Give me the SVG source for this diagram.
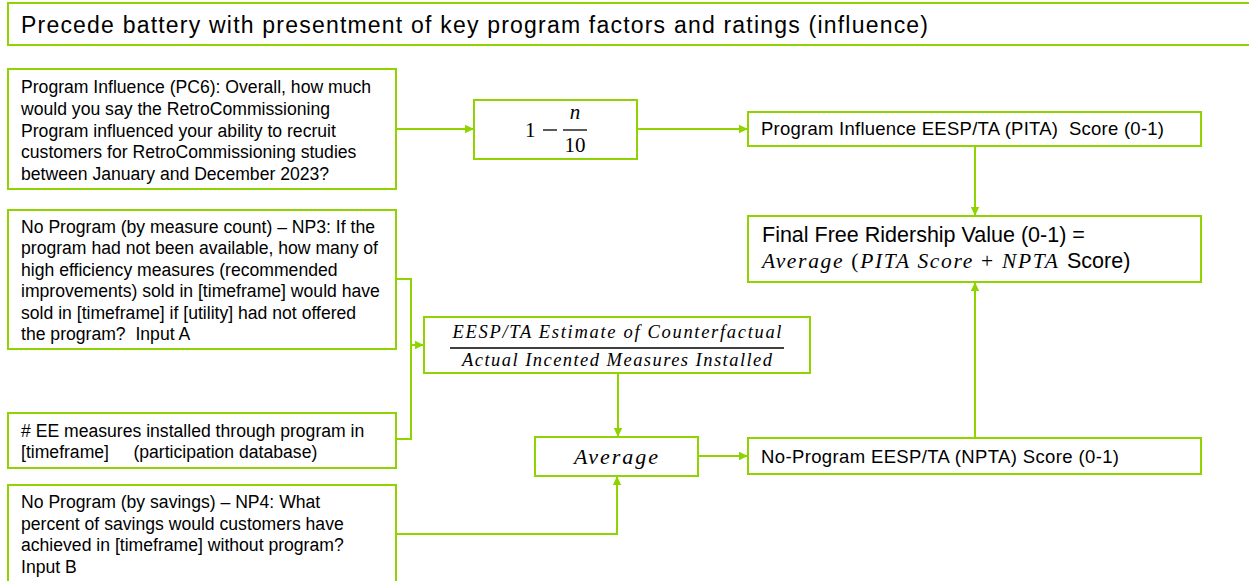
<svg xmlns="http://www.w3.org/2000/svg" width="1249" height="581" viewBox="0 0 1249 581">
<defs>
<marker id="arr" markerUnits="userSpaceOnUse" markerWidth="10" markerHeight="10" refX="9" refY="5" orient="auto">
<path d="M0,0.8 L9,5 L0,9.2 Z" fill="#8FD400"/>
</marker>
<style>
.box{fill:#fff;stroke:#8FD400;stroke-width:2}
.con{fill:none;stroke:#8FD400;stroke-width:2}
.t{font-family:"Liberation Sans",Arial,sans-serif;fill:#000;white-space:pre}
.m{font-family:"Liberation Serif","DejaVu Serif",serif;fill:#000}
.i{font-style:italic}
</style>
</defs>
<rect width="1249" height="581" fill="#fff"/>

<g id="title">
<rect class="box" x="8" y="3" width="1260" height="42"/>
<text class="t" x="21" y="33" font-size="23" textLength="907" lengthAdjust="spacing">Precede battery with presentment of key program factors and ratings (influence)</text>
</g>

<g id="connectors">
<path class="con" d="M396,129 H474" marker-end="url(#arr)"/>
<path class="con" d="M637,129 H748" marker-end="url(#arr)"/>
<path class="con" d="M975,147 V216" marker-end="url(#arr)"/>
<path class="con" d="M975,438 V282" marker-end="url(#arr)"/>
<path class="con" d="M396,279 H411 V439 H396"/>
<path class="con" d="M411,345 H424" marker-end="url(#arr)"/>
<path class="con" d="M618,373 V437" marker-end="url(#arr)"/>
<path class="con" d="M698,456 H748" marker-end="url(#arr)"/>
<path class="con" d="M396,534 H617 V476" marker-end="url(#arr)"/>
</g>

<g id="pc6">
<rect class="box" x="8" y="69" width="388" height="120"/>
<text class="t" font-size="17.6">
<tspan x="21" y="93">Program Influence (PC6): Overall, how much</tspan>
<tspan x="21" y="114.8">would you say the RetroCommissioning</tspan>
<tspan x="21" y="136.5">Program influenced your ability to recruit</tspan>
<tspan x="21" y="158.2">customers for RetroCommissioning studies</tspan>
<tspan x="21" y="180">between January and December 2023?</tspan>
</text>
</g>

<g id="formula">
<rect class="box" x="474" y="100" width="163" height="59"/>
<text class="m" x="525" y="137" font-size="21">1</text>
<line x1="543" y1="130" x2="557" y2="130" stroke="#000" stroke-width="1.3"/>
<text class="m i" x="575" y="119" font-size="21" text-anchor="middle">n</text>
<line x1="563" y1="130" x2="587" y2="130" stroke="#000" stroke-width="1.3"/>
<text class="m" x="575" y="152" font-size="21" text-anchor="middle">10</text>
</g>

<g id="pita">
<rect class="box" x="748" y="112" width="453" height="34"/>
<text class="t" x="761" y="135" font-size="18.5" textLength="403" lengthAdjust="spacing">Program Influence EESP/TA (PITA)  Score (0-1)</text>
</g>

<g id="final">
<rect class="box" x="748" y="216" width="453" height="66"/>
<text class="t" x="762" y="242" font-size="21.5">Final Free Ridership Value (0-1) =</text>
<text class="m" x="762" y="268" font-size="21.5" textLength="296" lengthAdjust="spacing"><tspan class="i">Average</tspan> (<tspan class="i">PITA Score</tspan> + <tspan class="i">NPTA</tspan></text>
<text class="t" x="1067" y="268" font-size="21.5">Score)</text>
</g>

<g id="np3">
<rect class="box" x="8" y="210" width="388" height="139"/>
<text class="t" font-size="17.6">
<tspan x="21" y="233">No Program (by measure count) – NP3: If the</tspan>
<tspan x="21" y="254.4">program had not been available, how many of</tspan>
<tspan x="21" y="275.8">high efficiency measures (recommended</tspan>
<tspan x="21" y="297.2">improvements) sold in [timeframe] would have</tspan>
<tspan x="21" y="318.6">sold in [timeframe] if [utility] had not offered</tspan>
<tspan x="21" y="340">the program?  Input A</tspan>
</text>
</g>

<g id="ratio">
<rect class="box" x="424" y="317" width="386" height="56"/>
<text class="m i" x="617" y="338" font-size="18.5" text-anchor="middle" textLength="329" lengthAdjust="spacing">EESP/TA Estimate of Counterfactual</text>
<line x1="450" y1="348" x2="784" y2="348" stroke="#000" stroke-width="1.3"/>
<text class="m i" x="617" y="366" font-size="18.5" text-anchor="middle" textLength="310" lengthAdjust="spacing">Actual Incented Measures Installed</text>
</g>

<g id="eecount">
<rect class="box" x="8" y="413" width="388" height="55"/>
<text class="t" font-size="17.6">
<tspan x="21" y="437"># EE measures installed through program in</tspan>
<tspan x="21" y="458">[timeframe]     (participation database)</tspan>
</text>
</g>

<g id="average">
<rect class="box" x="535" y="437" width="163" height="39"/>
<text class="m i" x="616" y="464" font-size="22" text-anchor="middle" textLength="84" lengthAdjust="spacing">Average</text>
</g>

<g id="npta">
<rect class="box" x="748" y="438" width="453" height="36"/>
<text class="t" x="761" y="463" font-size="18.5" textLength="358" lengthAdjust="spacing">No-Program EESP/TA (NPTA) Score (0-1)</text>
</g>

<g id="np4">
<rect class="box" x="8" y="485" width="388" height="110"/>
<text class="t" font-size="17.6">
<tspan x="21" y="508">No Program (by savings) – NP4: What</tspan>
<tspan x="21" y="529.5">percent of savings would customers have</tspan>
<tspan x="21" y="551">achieved in [timeframe] without program?</tspan>
<tspan x="21" y="572.5">Input B</tspan>
</text>
</g>
</svg>
